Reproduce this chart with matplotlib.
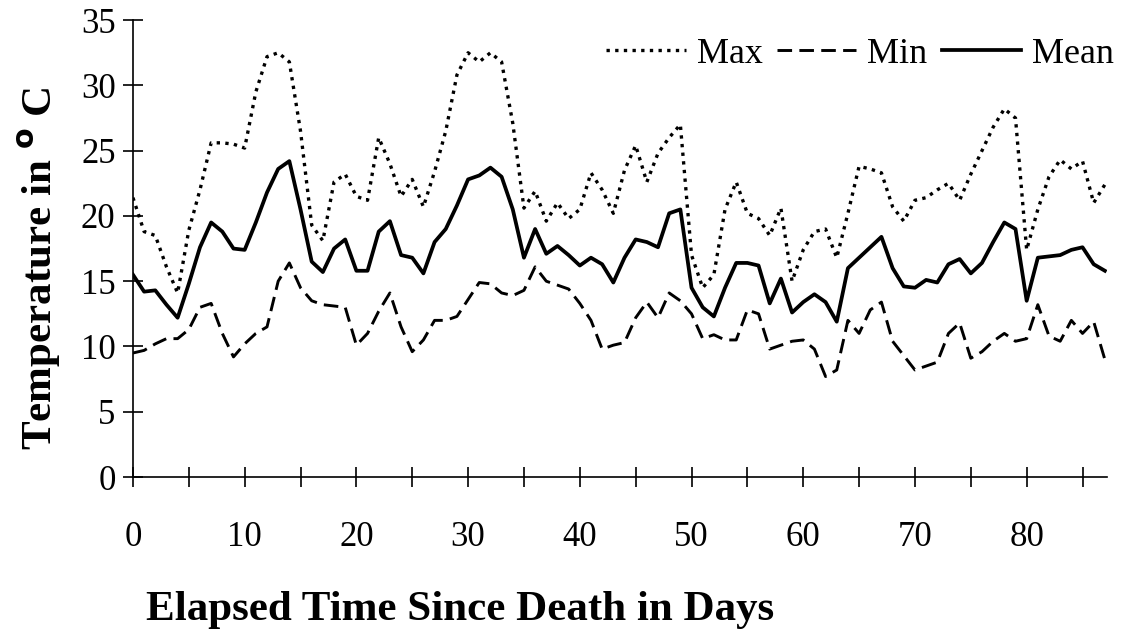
import matplotlib.pyplot as plt
import numpy as np

days = np.arange(0, 88)

t_max = [21.4, 18.8, 18.5, 16.1, 14.1, 18.9, 22.0, 25.6, 25.6, 25.5,
         25.2, 29.5, 32.2, 32.5, 31.8, 26.5, 19.3, 18.1, 22.6, 23.2,
         21.5, 21.2, 26.0, 24.0, 21.5, 22.8, 20.7, 23.4, 26.5, 30.8,
         32.5, 31.8, 32.5, 31.8, 27.1, 20.6, 21.9, 19.6, 21.0, 19.8,
         20.5, 23.3, 22.0, 20.2, 23.5, 25.4, 22.6, 24.8, 26.0, 27.0,
         17.0, 14.5, 15.5, 20.5, 22.6, 20.2, 19.8, 18.5, 20.6, 15.0,
         17.4, 18.8, 19.0, 16.8, 20.2, 23.8, 23.6, 23.3, 20.7, 19.6,
         21.2, 21.4, 22.0, 22.5, 21.2, 23.2, 25.0, 26.8, 28.2, 27.5,
         17.4, 20.5, 23.0, 24.3, 23.6, 24.2, 21.0, 22.4]

t_min = [9.5, 9.7, 10.2, 10.6, 10.6, 11.3, 13.0, 13.3, 11.0, 9.2,
         10.2, 11.0, 11.5, 15.0, 16.4, 14.5, 13.5, 13.2, 13.1, 13.0,
         10.1, 11.0, 12.7, 14.1, 11.5, 9.6, 10.5, 12.0, 12.0, 12.3,
         13.6, 14.9, 14.8, 14.1, 13.9, 14.3, 16.1, 15.0, 14.7, 14.4,
         13.3, 12.0, 9.8, 10.1, 10.3, 12.2, 13.4, 12.2, 14.1, 13.5,
         12.5, 10.6, 10.9, 10.5, 10.5, 12.8, 12.5, 9.8, 10.1, 10.4,
         10.5, 9.8, 7.7, 8.2, 12.0, 11.0, 12.8, 13.4, 10.4, 9.3,
         8.2, 8.5, 8.8, 11.0, 11.8, 9.1, 9.6, 10.4, 11.0, 10.4,
         10.6, 13.2, 10.8, 10.4, 12.0, 11.0, 11.9, 9.0]

t_mean = [15.5, 14.2, 14.3, 13.2, 12.2, 14.8, 17.6, 19.5, 18.8, 17.5,
          17.4, 19.5, 21.8, 23.6, 24.2, 20.5, 16.5, 15.7, 17.5, 18.2,
          15.8, 15.8, 18.8, 19.6, 17.0, 16.8, 15.6, 18.0, 19.0, 20.8,
          22.8, 23.1, 23.7, 23.0, 20.5, 16.8, 19.0, 17.1, 17.7, 17.0,
          16.2, 16.8, 16.3, 14.9, 16.8, 18.2, 18.0, 17.6, 20.2, 20.5,
          14.5, 13.0, 12.3, 14.5, 16.4, 16.4, 16.2, 13.3, 15.2, 12.6,
          13.4, 14.0, 13.4, 11.9, 16.0, 16.8, 17.6, 18.4, 16.0, 14.6,
          14.5, 15.1, 14.9, 16.3, 16.7, 15.6, 16.4, 18.0, 19.5, 19.0,
          13.5, 16.8, 16.9, 17.0, 17.4, 17.6, 16.3, 15.8]

plt.rcParams['font.family'] = ['Liberation Serif', 'DejaVu Serif']

fig = plt.figure(figsize=(11.21, 6.39), dpi=100)
ax = fig.add_axes([0.1186, 0.2535, 0.869, 0.715])

ax.plot(days, t_max, color='black', lw=2.4, linestyle=(0, (1, 1.6)), label='Max')
ax.plot(days, t_min, color='black', lw=2.1, linestyle=(0, (5, 2.5)), label='Min')
ax.plot(days, t_mean, color='black', lw=2.7, label='Mean')

ax.set_xlim(0, 87.2)
ax.set_ylim(0, 35)
ax.set_xticks(np.arange(0, 90, 5))
ax.set_xticklabels([str(d) if d % 10 == 0 else '' for d in range(0, 90, 5)])
ax.set_yticks(np.arange(0, 36, 5))

for s in ['top', 'right']:
    ax.spines[s].set_visible(False)
for s in ['left', 'bottom']:
    ax.spines[s].set_linewidth(1.2)
ax.tick_params(direction='inout', length=15, width=1.2, labelsize=25)
ax.tick_params(axis='y', pad=5)
ax.tick_params(axis='x', pad=24)

# axis titles placed like the original (x title sits left of centre)
fig.text(460 / 1121, 1 - 610 / 639, 'Elapsed Time Since Death in Days',
         fontsize=31, fontweight='bold', ha='center', va='center')
fig.text(40 / 1121, 1 - 268 / 639, 'Temperature in $^\\mathbf{o}$ C',
         fontsize=31, fontweight='bold', ha='center', va='center', rotation=90)

ax.legend(loc='center right', ncol=3, frameon=False, fontsize=26, handlelength=2.2,
          handletextpad=0.3, columnspacing=0.4, borderaxespad=0.0, borderpad=0.0,
          bbox_to_anchor=(1.007, 0.925))

plt.savefig('out.png', dpi=100)
